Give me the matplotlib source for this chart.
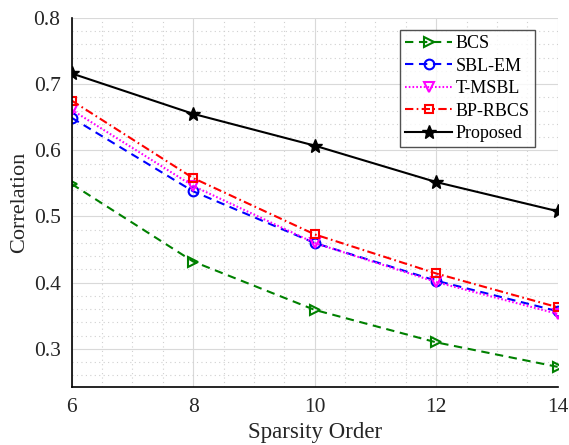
import matplotlib
matplotlib.use("Agg")
import matplotlib.pyplot as plt
from matplotlib.ticker import MultipleLocator

plt.rcParams['font.family'] = ['Liberation Serif', 'DejaVu Serif']
plt.rcParams['mathtext.fontset'] = 'stix'

x = [6, 8, 10, 12, 14]
bcs = [0.549, 0.432, 0.359, 0.310, 0.273]
sbl_em = [0.649, 0.538, 0.460, 0.403, 0.357]
t_msbl = [0.661, 0.546, 0.460, 0.401, 0.353]
bp_rbcs = [0.675, 0.558, 0.473, 0.414, 0.363]
proposed = [0.716, 0.655, 0.607, 0.552, 0.508]

fig = plt.figure(figsize=(5.69, 4.45), dpi=100)
ax = fig.add_axes([0.126, 0.131, 0.854, 0.829])

lw = 1.5
ms = 7
ax.plot(x, bcs, color='#008000', ls=(0, (4, 2.7)), marker='>', mfc='none', mew=1.5, ms=ms, lw=lw, label='BCS')
ax.plot(x, sbl_em, color='#0000ff', ls=(0, (4, 2.7)), marker='o', mfc='none', mew=1.5, ms=ms, lw=lw, label='SBL-EM')
ax.plot(x, t_msbl, color='#ff00ff', ls=(0, (0.8, 1.0)), marker='v', mfc='none', mew=1.5, ms=ms, lw=lw, label='T-MSBL')
ax.plot(x, bp_rbcs, color='#ff0000', ls=(0, (4, 1.6, 0.8, 1.6)), marker='s', mfc='none', mew=1.5, ms=6, lw=lw, label='BP-RBCS')
ax.plot(x, proposed, '-', color='black', marker='*', ms=10, lw=lw, label='Proposed')

ax.set_xlim(6, 14)
ax.set_ylim(0.243, 0.8)
ax.xaxis.set_major_locator(MultipleLocator(2))
ax.xaxis.set_minor_locator(MultipleLocator(0.5))
ax.yaxis.set_major_locator(MultipleLocator(0.1))
ax.yaxis.set_minor_locator(MultipleLocator(0.02))
ax.grid(True, which='major', color='#d9d9d9', lw=0.8, ls='-')
ax.grid(True, which='minor', color='#d0d0d0', lw=0.8, ls=(0, (1, 3)))
ax.set_axisbelow(True)
for s in ['top', 'right']:
    ax.spines[s].set_visible(False)
for s in ['left', 'bottom']:
    ax.spines[s].set_linewidth(1.2)
ax.tick_params(which='both', direction='in', labelsize=15.5, colors='#262626', length=0)
ax.tick_params(which='major', pad=8)

ax.set_xlabel('Sparsity Order', fontsize=16.5, color='#262626', labelpad=4)
ax.set_ylabel('Correlation', fontsize=16, color='#262626', labelpad=3)

leg = ax.legend(loc='upper right', bbox_to_anchor=(0.965, 0.982), fontsize=13,
                frameon=True, fancybox=False, edgecolor='#262626',
                handlelength=2.6, handletextpad=0.2, borderpad=0.3,
                labelspacing=0.3, borderaxespad=0.3)
leg.get_frame().set_linewidth(1.0)

fig.savefig('out.png', dpi=100)
